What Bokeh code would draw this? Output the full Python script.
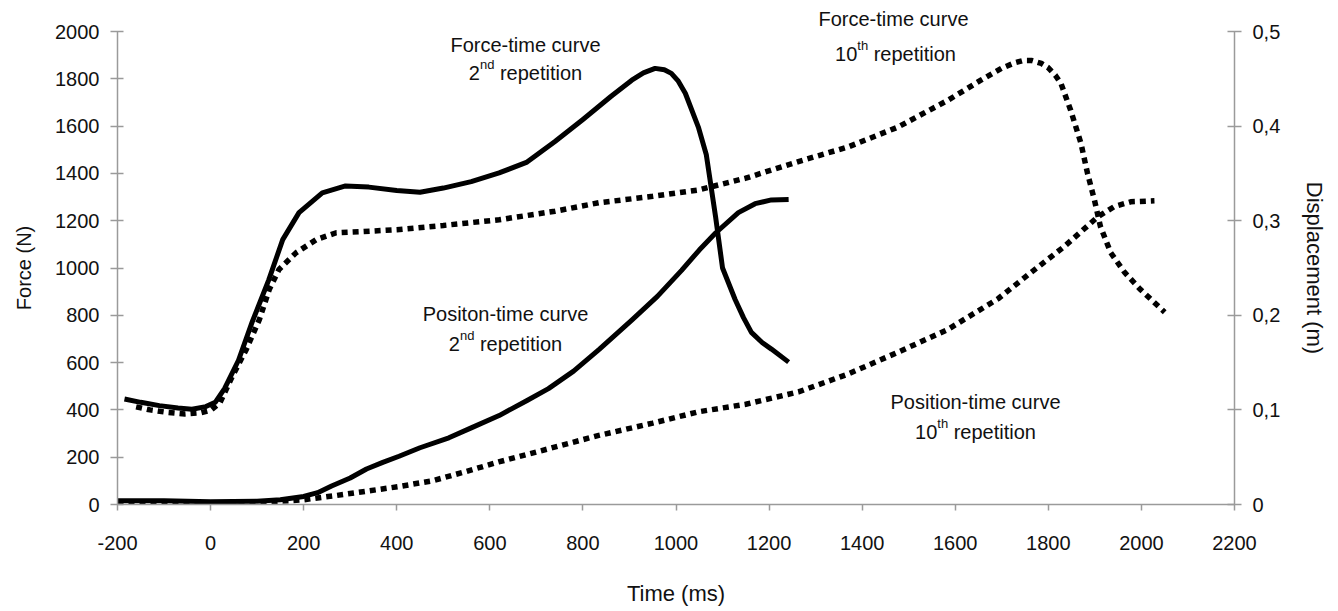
from bokeh.plotting import figure
from bokeh.models import Range1d, LinearAxis, FixedTicker, Label
from bokeh.embed import file_html
from bokeh.resources import INLINE

# ---------------- data ----------------
time_ticks = list(range(-200, 2201, 200))
time_tick_labels = [str(t) for t in time_ticks]
force_ticks = list(range(0, 2001, 200))
disp_ticks = [0, 0.1, 0.2, 0.3, 0.4, 0.5]
disp_tick_labels = ["0", "0,1", "0,2", "0,3", "0,4", "0,5"]

# Force-time curve, 2nd repetition (N)
force2_t = [-185, -150, -110, -70, -40, -10, 10, 30, 60, 90, 125, 155, 190, 240, 290, 340,
            400, 450, 500, 560, 620, 680, 740, 800, 860, 905, 930, 955, 975, 990, 1005, 1020,
            1048, 1065, 1085, 1100, 1127, 1145, 1162, 1185, 1205, 1242]
force2 = [446, 432, 418, 408, 403, 414, 432, 490, 610, 775, 950, 1120, 1234, 1318, 1347, 1342,
          1328, 1320, 1338, 1365, 1402, 1448, 1535, 1628, 1725, 1794, 1825, 1844, 1838, 1823, 1790,
          1739, 1596, 1480, 1217, 1000, 867, 790, 728, 685, 657, 602]

# Force-time curve, 10th repetition (N)
force10_t = [-160, -130, -95, -55, -20, 0, 20, 47, 77, 105, 126, 147, 184, 227, 270, 325, 400,
             500, 620, 740, 834, 950, 1048, 1150, 1263, 1370, 1477, 1584, 1655, 1700, 1728, 1745,
             1765, 1785, 1799, 1815, 1827, 1848, 1870, 1884, 1899, 1912, 1934, 1964, 1998, 2050]
force10 = [413, 400, 390, 383, 388, 398, 430, 543, 657, 783, 909, 994, 1065, 1120, 1149, 1154, 1162,
           1180, 1204, 1240, 1276, 1303, 1330, 1380, 1450, 1512, 1596, 1709, 1794, 1845, 1868, 1877,
           1877, 1865, 1848, 1815, 1781, 1667, 1528, 1402, 1288, 1175, 1065, 981, 909, 813]

# Position-time curve, 2nd repetition (m)
pos2_t = [-200, -100, 0, 100, 150, 200, 230, 260, 300, 335, 370, 405, 450, 512, 560, 620, 680,
          726, 780, 835, 905, 960, 1012, 1050, 1085, 1134, 1170, 1205, 1242]
pos2 = [0.004, 0.004, 0.003, 0.0035, 0.005, 0.0085, 0.0125, 0.0195, 0.028, 0.0375, 0.0445, 0.051,
        0.06, 0.0705, 0.081, 0.094, 0.11, 0.1225, 0.141, 0.164, 0.195, 0.22, 0.2475, 0.269, 0.287,
        0.3085, 0.318, 0.322, 0.3225]

# Position-time curve, 10th repetition (m)
pos10_t = [-200, -100, 0, 100, 200, 270, 334, 405, 476, 550, 619, 700, 834, 950, 1048, 1150, 1263,
           1370, 1477, 1584, 1692, 1762, 1835, 1906, 1942, 1977, 2028]
pos10 = [0.0015, 0.0015, 0.0015, 0.002, 0.005, 0.0095, 0.014, 0.019, 0.025, 0.035, 0.045, 0.0555,
         0.073, 0.086, 0.098, 0.106, 0.119, 0.138, 0.161, 0.185, 0.2175, 0.245, 0.273, 0.304, 0.315,
         0.32, 0.321]

# ---------------- layout ----------------
W, H = 1330, 608
BL, BR, BT, BB = 117, 93, 31, 102
X0, X1 = -200, 2200
Y0, Y1 = 0, 2000
FONT = "Liberation Sans"

p = figure(width=W, height=H, x_range=Range1d(X0, X1), y_range=Range1d(Y0, Y1),
           output_backend="svg", toolbar_location=None,
           min_border_left=BL, min_border_right=BR, min_border_top=BT, min_border_bottom=BB)
p.extra_y_ranges = {"disp": Range1d(0, 0.5)}
p.outline_line_color = None
p.grid.visible = False
p.background_fill_color = "white"
p.border_fill_color = "white"

AX_COL = "#9a9a9a"
TXT = "#111111"

xa = p.xaxis[0]
xa.ticker = FixedTicker(ticks=time_ticks)
xa.major_label_overrides = dict(zip(time_ticks, time_tick_labels))
xa.axis_label = "Time (ms)"
xa.major_tick_out = 6
xa.major_tick_in = 0
xa.major_label_standoff = 25
xa.axis_label_standoff = 28

ya = p.yaxis[0]
ya.ticker = FixedTicker(ticks=force_ticks)
ya.axis_label = "Force (N)"
ya.major_tick_out = 7
ya.major_tick_in = 6
ya.major_label_standoff = 11
ya.axis_label_standoff = 17

ra = LinearAxis(y_range_name="disp", ticker=FixedTicker(ticks=disp_ticks),
                major_label_overrides=dict(zip(disp_ticks, disp_tick_labels)),
                axis_label="Displacement (m)")
ra.major_tick_out = 7
ra.major_tick_in = 7
ra.major_label_standoff = 11
ra.axis_label_standoff = 19
p.add_layout(ra, "right")

for ax, lab_size in ((xa, "22px"), (ya, "20px"), (ra, "22px")):
    ax.axis_line_color = AX_COL
    ax.axis_line_width = 1.5
    ax.major_tick_line_color = AX_COL
    ax.major_tick_line_width = 1.5
    ax.minor_tick_line_color = None
    ax.major_label_text_font = FONT
    ax.major_label_text_font_size = "20px"
    ax.major_label_text_color = TXT
    ax.axis_label_text_font = FONT
    ax.axis_label_text_font_size = lab_size
    ax.axis_label_text_font_style = "normal"
    ax.axis_label_text_color = TXT

# ---------------- curves ----------------
p.line(force2_t, force2, line_color="black", line_width=5, line_join="round")
p.line(force10_t, force10, line_color="black", line_width=5.5, line_dash="6 5", line_cap="butt")
p.line(pos2_t, pos2, y_range_name="disp", line_color="black", line_width=5, line_join="round")
p.line(pos10_t, pos10, y_range_name="disp", line_color="black", line_width=5.5, line_dash="6 5",
       line_cap="butt")

# ---------------- annotations ----------------
FH = H - BT - BB
FRAME_BOTTOM = BT + FH
MAIN = 20
SUP = 13

# the text that lies above the plotting frame goes in the (otherwise empty) title slot
p.title.text = "Force-time curve"
p.title.align = "left"
p.title.offset = 818 - BL
p.title.standoff = 4
p.title.vertical_align = "bottom"
p.title.text_font = FONT
p.title.text_font_size = f"{MAIN}px"
p.title.text_font_style = "normal"
p.title.text_color = TXT

ADV = {' ': 0.278, '0': 0.556, '1': 0.556, '2': 0.556, 'r': 0.333, 'e': 0.556, 'p': 0.556,
       't': 0.278, 'i': 0.222, 'o': 0.556, 'n': 0.556, 'd': 0.556, 'h': 0.556}


def tw(s, size):
    return sum(ADV.get(c, 0.556) for c in s) * size


def lbl(px, py, text, size, align):
    # screen units: relative to the frame's bottom-left corner, y up
    p.add_layout(Label(x=px - BL, y=FRAME_BOTTOM - py, x_units="screen", y_units="screen",
                       text=text, text_font=FONT, text_font_size=f"{size}px", level="overlay",
                       text_color=TXT, text_align=align, text_baseline="alphabetic"))


def rep_line(cx, base, num, sup):
    rest = "repetition"
    total = tw(num, MAIN) + tw(sup, SUP) + tw(" " + rest, MAIN)
    x = cx - total / 2
    lbl(x, base, num, MAIN, "left")
    x += tw(num, MAIN)
    lbl(x, base - 8, sup, SUP, "left")
    x += tw(sup, SUP) + tw(" ", MAIN)
    lbl(x, base, rest, MAIN, "left")


lbl(525, 46, "Force-time curve", MAIN, "center")
rep_line(525, 74, "2", "nd")
rep_line(895, 55, "10", "th")
lbl(505, 315, "Positon-time curve", MAIN, "center")
rep_line(505, 345, "2", "nd")
lbl(975, 403, "Position-time curve", MAIN, "center")
rep_line(975, 433, "10", "th")

open("out.html", "w").write(file_html(p, INLINE))
